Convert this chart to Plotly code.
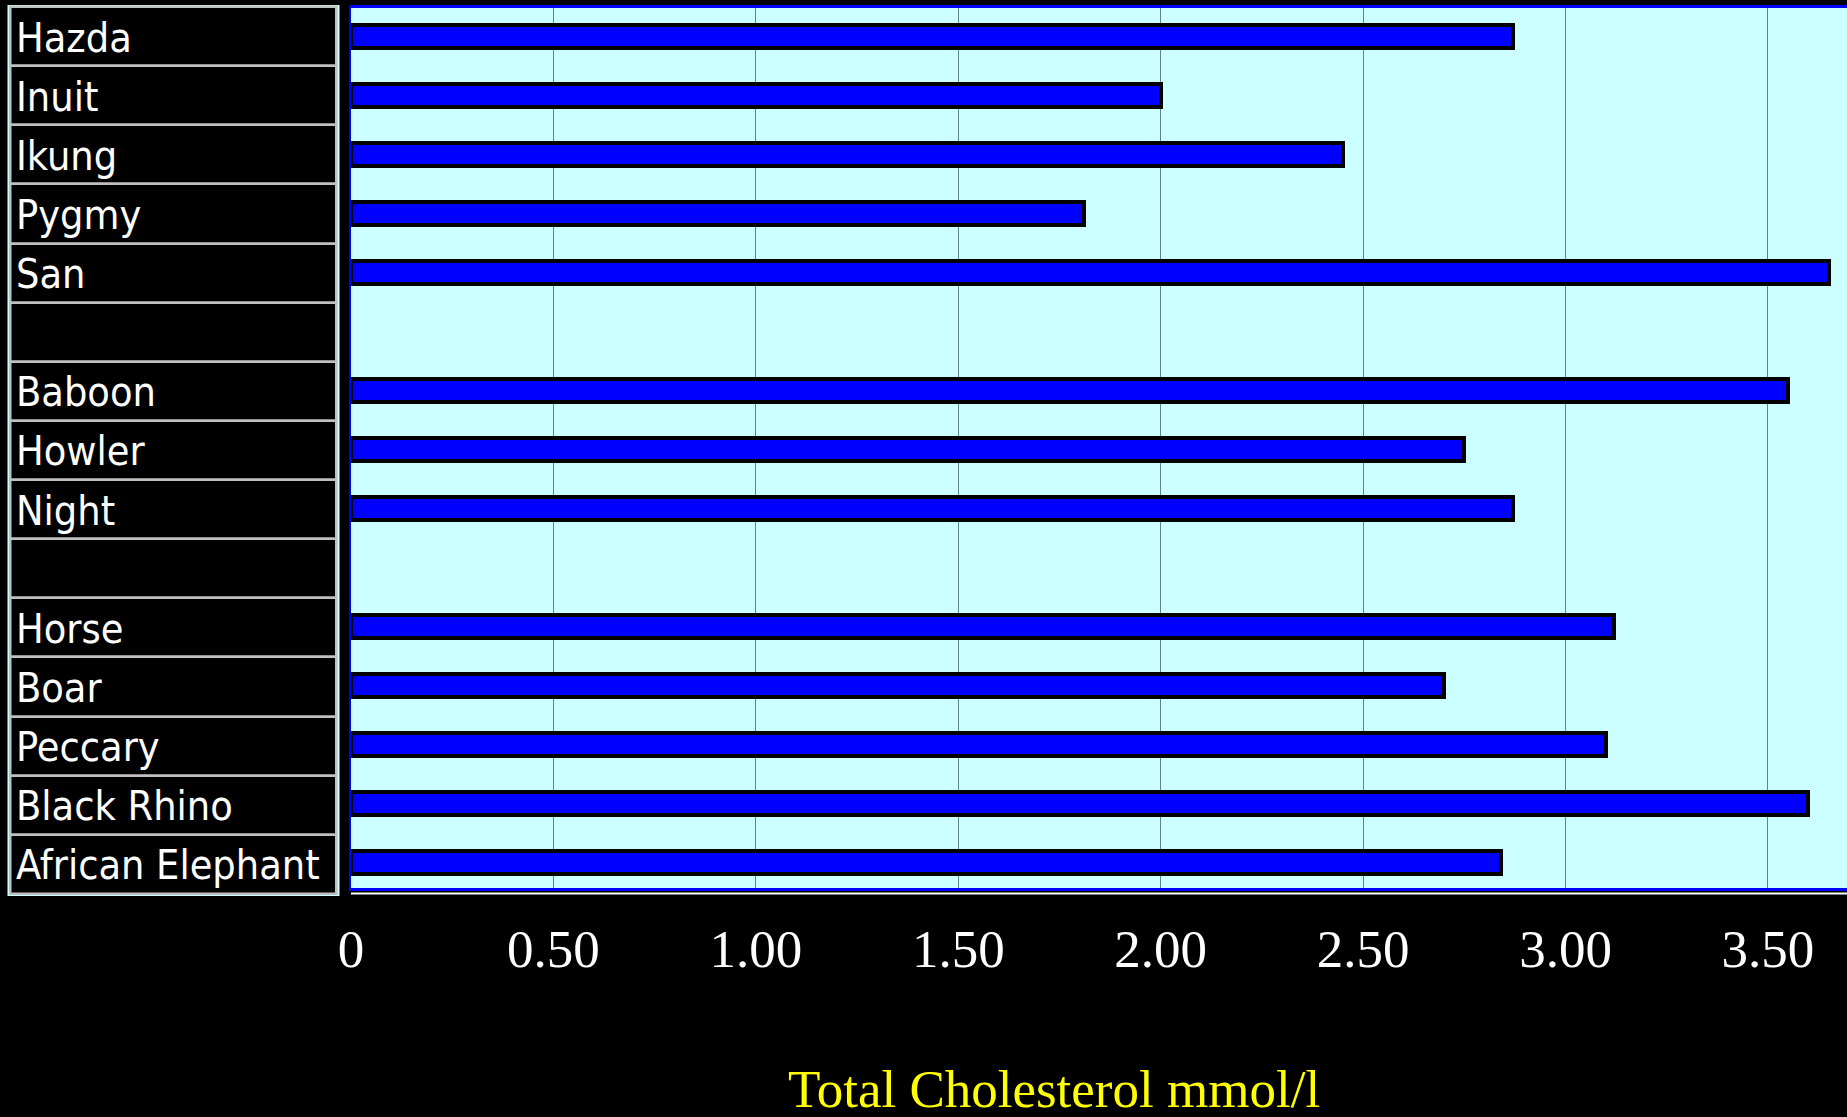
import plotly.graph_objects as go

# ---- data ----
categories = ["Hazda", "Inuit", "Ikung", "Pygmy", "San", " ",
              "Baboon", "Howler", "Night", "  ",
              "Horse", "Boar", "Peccary", "Black Rhino", "African Elephant"]
values = [2.87, 2.00, 2.45, 1.81, 3.65, None,
          3.55, 2.75, 2.87, None,
          3.12, 2.70, 3.10, 3.60, 2.84]
row_labels = ["Hazda", "Inuit", "Ikung", "Pygmy", "San", "",
              "Baboon", "Howler", "Night", "",
              "Horse", "Boar", "Peccary", "Black Rhino", "African Elephant"]
tick_vals = [0, 0.5, 1.0, 1.5, 2.0, 2.5, 3.0, 3.5]
tick_text = ["0", "0.50", "1.00", "1.50", "2.00", "2.50", "3.00", "3.50"]
x_title = "Total Cholesterol mmol/l"

W, H = 1847, 1117
n = len(categories)

def py(p):  # pixel from top -> paper fraction
    return 1 - p / H

fig = go.Figure()

# label table (one black cell per row)
fig.add_trace(go.Bar(
    y=categories, x=[1] * n, orientation="h", width=1,
    marker=dict(color="black", line=dict(color="#c0c0c0", width=2.5)),
    xaxis="x2", yaxis="y2", hoverinfo="skip", showlegend=False,
))

# values
fig.add_trace(go.Bar(
    y=categories, x=values, orientation="h", width=0.39,
    marker=dict(color="#0000ff", line=dict(color="black", width=4)),
    xaxis="x", yaxis="y", showlegend=False,
))

annotations = []
for c, lab in zip(categories, row_labels):
    if lab:
        annotations.append(dict(
            x=0, y=c, xref="x2", yref="y2", text=lab, showarrow=False,
            xanchor="left", yanchor="middle", xshift=3, yshift=-1,
            font=dict(family="Liberation Sans Narrow, Arial Narrow, DejaVu Sans Condensed",
                      size=41, color="white"),
        ))
annotations.append(dict(
    x=1054 / W, y=0, xref="paper", yref="paper", text=x_title, showarrow=False,
    xanchor="center", yanchor="bottom", yshift=-3,
    font=dict(family="Liberation Serif, Times New Roman, serif", size=53, color="#ffff00"),
))

row_px = 58.93
fig.update_layout(
    width=W, height=H,
    margin=dict(l=0, r=0, t=0, b=0, pad=0, autoexpand=False),
    paper_bgcolor="black",
    plot_bgcolor="#ccffff",
    bargap=0,
    xaxis=dict(
        domain=[351 / W, 1], range=[0, (W - 351.2) / 404.8],
        tickvals=tick_vals, ticktext=tick_text,
        tickfont=dict(family="Liberation Serif, Times New Roman, serif", size=53, color="white"),
        ticks="outside", ticklen=12, tickcolor="rgba(0,0,0,0)",
        showgrid=True, gridcolor="#5f8585", gridwidth=1.3,
        showline=True, linecolor="#0000ff", linewidth=3, mirror=True,
        zeroline=False, fixedrange=True, automargin=False,
    ),
    yaxis=dict(
        domain=[py(888), py(8)],
        type="category", categoryorder="array", categoryarray=categories,
        range=[14.5 - 3.5 / row_px, -0.5 + 0.5 / row_px],
        showticklabels=False, ticks="", showgrid=False, zeroline=False,
        showline=True, linecolor="#0000ff", linewidth=2, mirror=False,
        automargin=False,
    ),
    xaxis2=dict(
        domain=[7.5 / W, 339.5 / W], range=[-0.01, 1.01], anchor="y2",
        visible=False, fixedrange=True, automargin=False,
    ),
    yaxis2=dict(
        domain=[py(896), py(5)], anchor="x2",
        type="category", categoryorder="array", categoryarray=categories,
        range=[14.5 + 2 / 59.13, -0.5 - 2 / 59.13],
        visible=False, automargin=False,
    ),
    annotations=annotations,
    shapes=[dict(
        type="line", xref="x domain", yref="y domain",
        x0=0, x1=1, y0=-5.5, y1=-5.5, ysizemode="pixel", yanchor=0,
        line=dict(color="white", width=2),
    )],
)

fig.write_html("out.html")
